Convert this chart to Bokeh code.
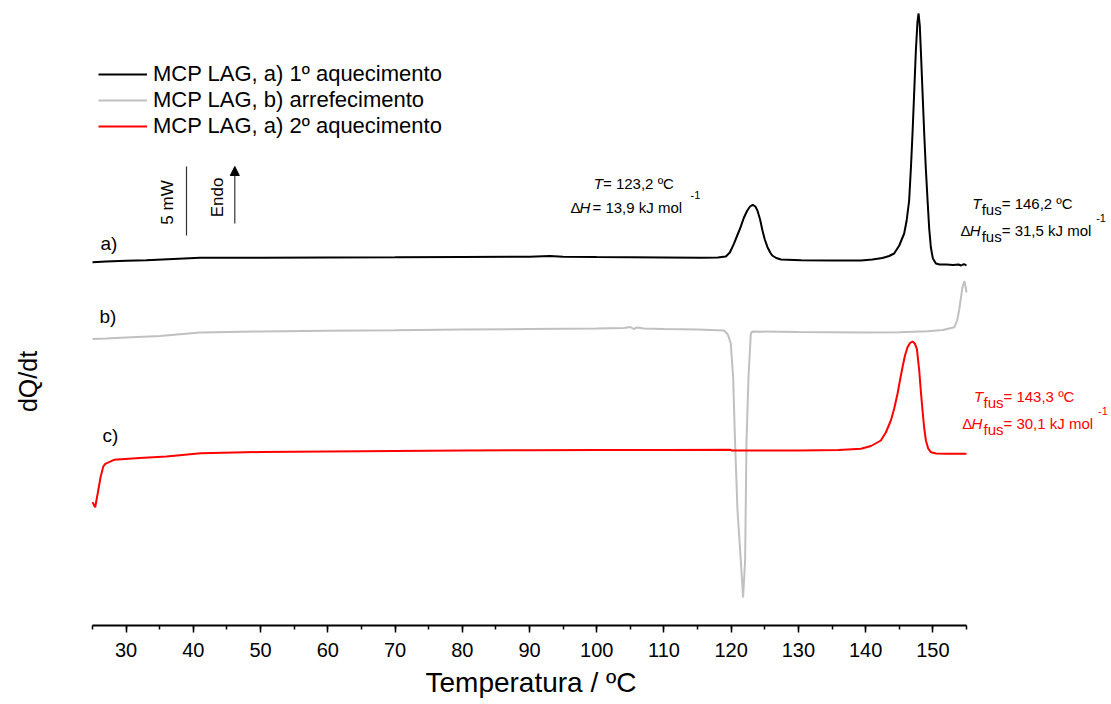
import math
from bokeh.plotting import figure
from bokeh.models import (Range1d, SingleIntervalTicker, Legend, LegendItem, Label,
                          Arrow, NormalHead, Title)
from bokeh.embed import file_html
from bokeh.resources import INLINE

# ---------------- data (temperature in ºC, signal in arbitrary units) ----------------
T_a = [25.0, 27, 30, 33, 37, 41, 50, 60, 70, 80, 90, 93, 95, 100, 110, 115.5, 118, 119.2,
       119.8, 120.4, 120.9, 121.4, 121.9, 122.4, 122.8, 123.2, 123.6, 123.9, 124.3, 124.65,
       125.0, 125.4, 125.8, 126.1, 126.7, 127.4, 130.4, 135, 139.3, 141, 142.5, 143.5,
       144.24, 145, 145.73, 146.1, 146.47, 146.75, 146.97, 147.2, 147.47, 147.7, 147.87,
       148.05, 148.21, 148.45, 148.71, 148.95, 149.21, 149.45, 149.7, 150.0, 150.45, 151,
       152, 153, 153.8, 154.2, 154.6, 155.0]
S_a = [363.3, 364, 364.7, 365.2, 366.5, 367.7, 367.8, 368, 368.2, 368.5, 368.8, 369.5, 368.8,
       368.5, 368, 367.7, 368, 369, 373, 381.7, 390, 398.3, 408, 415, 419, 420.7, 419, 415,
       406, 395, 386, 378.3, 373, 370, 367.5, 366, 365.3, 365, 365, 366, 367.5, 369.5, 372,
       380, 392, 405, 425, 460, 492, 530, 575, 603, 612, 600, 575, 535, 492, 457, 425, 397,
       378, 367, 362, 361, 361, 360.5, 361, 360, 361.5, 360]

T_b = [25, 27, 30, 35, 41, 50, 60, 70, 80, 90, 100, 104, 105, 105.5, 106, 107, 110, 115,
       118.94, 119.5, 119.94, 120.29, 120.58, 120.94, 121.43, 121.77, 122.07, 122.27, 122.57,
       122.92, 123.17, 130, 140, 145, 149.2, 151.5, 153.2, 153.6, 153.9, 154.2, 154.4, 154.7,
       154.9, 155.0]
S_b = [286.5, 287, 288, 289.5, 293, 294, 294.7, 295.2, 296, 296.5, 297, 297.5, 298.5, 296.5,
       298, 297, 296.5, 296, 295, 291, 282, 248, 182, 115, 65, 28, 65, 182, 248, 292, 294,
       293.5, 293, 293.3, 294.3, 295.5, 298.3, 305, 315, 329, 338.3, 344.3, 337, 333]

T_c = [25.0, 25.4, 25.8, 26.2, 26.6, 26.9, 28.2, 32, 36, 41.1, 50, 60, 70, 80, 90, 100, 110,
       119.9, 120.1, 130, 136, 139.3, 140.8, 142.26, 143.0, 143.75, 144.25, 144.74, 145.1,
       145.48, 145.85, 146.23, 146.6, 146.97, 147.3, 147.62, 147.97, 148.2, 148.46, 148.7,
       148.96, 149.3, 149.7, 150.5, 152, 155.0]
S_c = [123.3, 118.3, 133, 148.3, 159, 161.7, 165.7, 167.5, 169, 172.3, 173.5, 174, 174.5, 175,
       175.2, 175.5, 175.5, 175.7, 175, 175, 175.5, 176.7, 179.5, 185, 193, 205, 217, 231.7,
       245, 258.3, 270, 278.3, 282.5, 284, 282, 276.7, 255, 235, 215, 198, 185, 177, 173.3,
       172, 171.7, 171.7]

series_names = ["MCP LAG, a) 1º aquecimento", "MCP LAG, b) arrefecimento",
                "MCP LAG, a) 2º aquecimento"]
series_colors = ["#000000", "#c0c0c0", "#ff0000"]
curve_tags = ["a)", "b)", "c)"]
x_ticks_interval = 10
scale_bar_mw = 5
au_per_mw = 13.8

# ---------------- figure ----------------
X0, X1 = 25, 155          # temperature span of the axis
PX0, PX1 = 92, 966        # where the axis starts / ends on the page
Y0, Y1 = 0, 625
W, H = 1111, 704
BB = 79
FH = H - BB
DPP = (X1 - X0) / (PX1 - PX0)

def fx(px):
    return X0 + (px - PX0) * DPP

def fy(py):
    return Y1 - py * (Y1 - Y0) / FH

FONT = "Liberation Sans"

p = figure(width=W, height=H, x_range=Range1d(fx(0), fx(W)), y_range=Range1d(Y0, Y1),
           output_backend="svg", toolbar_location=None, y_axis_location=None,
           min_border_left=0, min_border_right=0, min_border_top=0, min_border_bottom=BB)
p.outline_line_color = None
p.xgrid.visible = False
p.ygrid.visible = False
p.background_fill_color = "white"
p.border_fill_color = "white"

ax = p.xaxis[0]
ax.bounds = (X0, X1)
ax.ticker = SingleIntervalTicker(interval=x_ticks_interval, num_minor_ticks=2)
ax.axis_line_width = 2
ax.axis_line_color = "black"
ax.major_tick_out = 7
ax.major_tick_in = 0
ax.minor_tick_out = 4
ax.minor_tick_in = 0
ax.major_tick_line_width = 1.5
ax.minor_tick_line_width = 1.5
ax.major_tick_line_color = "black"
ax.minor_tick_line_color = "black"
ax.major_label_text_font = FONT
ax.major_label_text_font_size = "20px"
ax.major_label_text_color = "black"
ax.major_label_standoff = 10

xtitle = Title(text="Temperatura / ºC", align="left", offset=425,
               text_font=FONT, text_font_size="28px", text_font_style="normal",
               text_color="black", standoff=10)
p.add_layout(xtitle, "below")

r_a = p.line(T_a, S_a, line_color=series_colors[0], line_width=2)
r_b = p.line(T_b, S_b, line_color=series_colors[1], line_width=2)
r_c = p.line(T_c, S_c, line_color=series_colors[2], line_width=2)

legend = Legend(items=[LegendItem(label=series_names[0], renderers=[r_a]),
                       LegendItem(label=series_names[1], renderers=[r_b]),
                       LegendItem(label=series_names[2], renderers=[r_c])],
                location=(98, 486), orientation="vertical",
                label_text_font=FONT, label_text_font_size="22px",
                label_text_color="black",
                glyph_width=49, glyph_height=26, label_height=26, spacing=0,
                padding=0, margin=0, label_standoff=6,
                border_line_color=None, background_fill_alpha=0)
p.add_layout(legend)

def lab(px, py, text, size, color="black", style="normal", align="left", angle=0.0):
    p.add_layout(Label(x=fx(px), y=fy(py), text=text, text_font=FONT,
                       text_font_size=f"{size}px", text_color=color,
                       text_font_style=style, text_align=align,
                       text_baseline="middle", angle=angle))

# y axis title
lab(27, 381, "dQ/dt", 25, align="center", angle=math.pi / 2)

# curve tags
lab(100, 243, curve_tags[0], 19)
lab(99, 316, curve_tags[1], 19)
lab(102, 435, curve_tags[2], 19)

# scale bar and endo arrow
bar_x = fx(186)
bar_top = fy(166)
p.segment(x0=[bar_x], y0=[bar_top - scale_bar_mw * au_per_mw], x1=[bar_x], y1=[bar_top],
          line_color="#333333", line_width=1.2)
lab(166.7, 202, f"{scale_bar_mw} mW", 17, align="center", angle=math.pi / 2)
lab(216.7, 197, "Endo", 17, align="center", angle=math.pi / 2)
p.add_layout(Arrow(end=NormalHead(size=9, fill_color="black", line_color="black"),
                   x_start=fx(234.3), y_start=fy(223), x_end=fx(234.3), y_end=fy(166),
                   line_color="#333333", line_width=1.2))

# annotation: crystal transition (black)
lab(593.3, 183, "T", 15, style="italic")
lab(602.5, 183, "= 123,2 ºC", 15)
lab(570, 207, "Δ", 15)
lab(579, 207, "H", 15, style="italic")
lab(592, 207, "= 13,9 kJ mol", 15)
lab(690, 194, "-1", 11)

# annotation: fusion peaks
def fus_block(x0, y1, y2, temp, dh, color):
    lab(x0, y1, "T", 15, color=color, style="italic")
    lab(x0 + 9.5, y1 + 6, "fus", 15, color=color)
    lab(x0 + 29.5, y1, f"= {temp} ºC", 15, color=color)
    lab(x0 - 11.7, y2, "Δ", 15, color=color)
    lab(x0 - 2.5, y2, "H", 15, color=color, style="italic")
    lab(x0 + 9.5, y2 + 6, "fus", 15, color=color)
    lab(x0 + 29.5, y2, f"= {dh} kJ mol", 15, color=color)
    lab(x0 + 124, y2 - 13, "-1", 11, color=color)

fus_block(971.7, 203, 230, "146,2", "31,5", "#000000")
fus_block(973.5, 396, 423, "143,3", "30,1", "#ff0000")

open("out.html", "w").write(file_html(p, INLINE))
